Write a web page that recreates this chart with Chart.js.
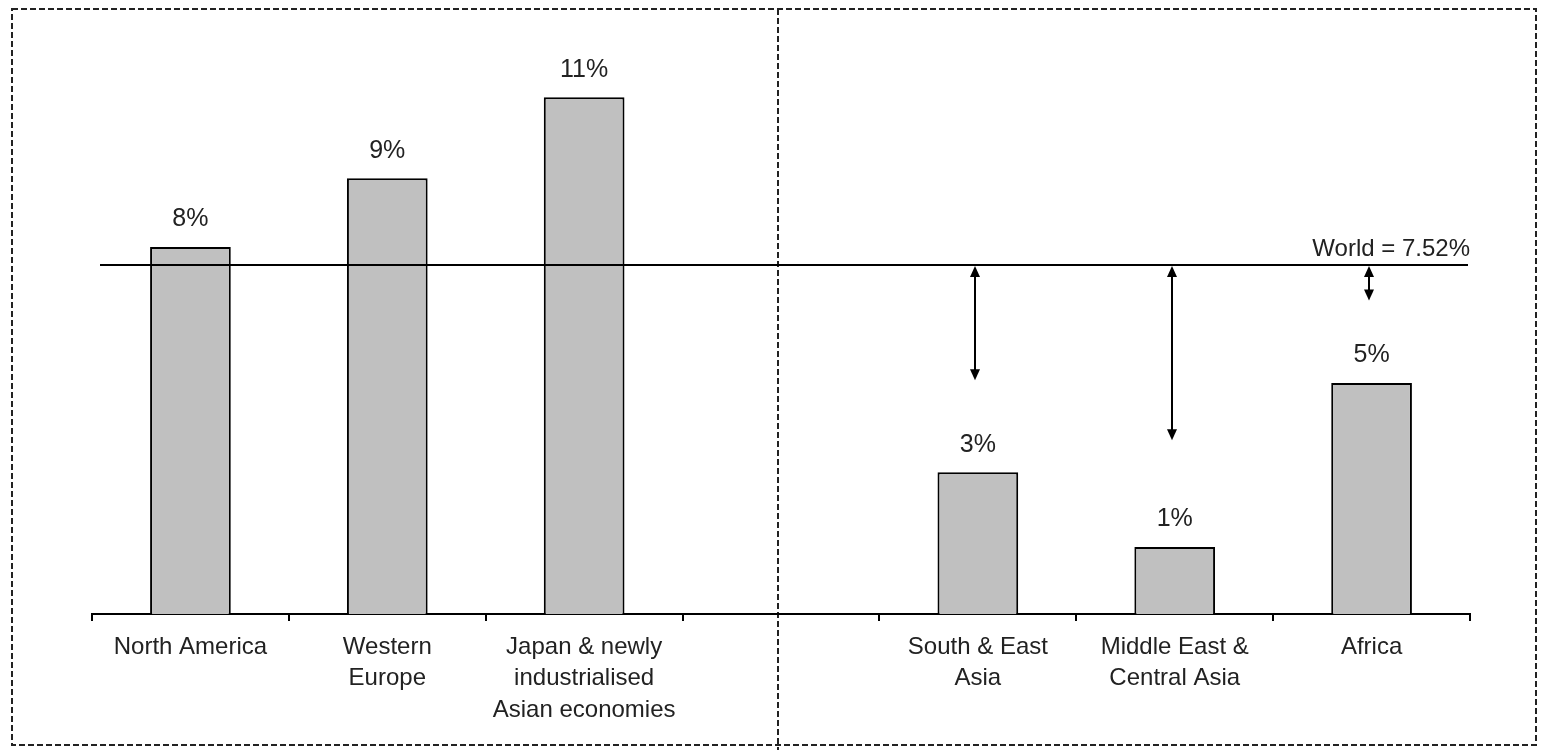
<!DOCTYPE html>
<html>
<head>
<meta charset="utf-8">
<script src="https://cdn.jsdelivr.net/npm/chart.js@4.4.1/dist/chart.umd.min.js"></script>
<style>
  body { margin: 0; background: #fff; }
  #wrap { width: 1541px; height: 750px; position: relative; }
</style>
</head>
<body>
<div id="wrap"><canvas id="growthChart"></canvas></div>
<script>
// regions, one empty slot splits the two groups
const regions = [
  "North America",
  ["Western", "Europe"],
  ["Japan & newly", "industrialised", "Asian economies"],
  "",
  ["South & East", "Asia"],
  ["Middle East &", "Central Asia"],
  "Africa",
];
const growth = [7.9, 9.38, 11.12, null, 3.05, 1.44, 4.97];
const worldGrowth = 7.52;
// where the gap arrows stop (value on the same scale)
const arrowEnds = [null, null, null, null, 5.03, 3.74, 6.75];

const FONT = "'Liberation Sans', Arial, sans-serif";

function arrowHead(ctx, x, y, dir) {
  ctx.beginPath();
  ctx.moveTo(x, y);
  ctx.lineTo(x - 5, y - dir * 11);
  ctx.lineTo(x + 5, y - dir * 11);
  ctx.closePath();
  ctx.fill();
}

const extras = {
  id: "extras",
  beforeDraw(chart) {
    const ctx = chart.ctx;
    ctx.save();
    ctx.strokeStyle = "#222";
    ctx.lineWidth = 2;
    ctx.setLineDash([6, 3]);
    ctx.strokeRect(12, 9, 1524, 736);
    // divider between the two groups
    const xs = chart.scales.x;
    const dx = Math.round(xs.getPixelForValue(3)) - 3;
    ctx.beginPath();
    ctx.moveTo(dx, 9);
    ctx.lineTo(dx, 750);
    ctx.stroke();
    ctx.restore();
  },
  afterDatasetsDraw(chart) {
    const ctx = chart.ctx;
    const ys = chart.scales.y;
    const area = chart.chartArea;
    const bars = chart.getDatasetMeta(0).data;
    ctx.save();

    // world average line
    const wy = Math.round(ys.getPixelForValue(worldGrowth));
    ctx.strokeStyle = "#000";
    ctx.lineWidth = 2;
    ctx.beginPath();
    ctx.moveTo(area.left + 8, wy);
    ctx.lineTo(area.right - 2, wy);
    ctx.stroke();

    ctx.fillStyle = "#222";
    ctx.font = "24px " + FONT;
    ctx.textAlign = "right";
    ctx.textBaseline = "bottom";
    ctx.fillText("World = " + worldGrowth + "%", area.right, wy - 4);

    // value labels
    ctx.font = "25px " + FONT;
    ctx.textAlign = "center";
    growth.forEach((v, i) => {
      if (v === null) return;
      ctx.fillText(Math.round(v) + "%", bars[i].x, bars[i].y - 15);
    });

    // gap arrows
    ctx.fillStyle = "#000";
    arrowEnds.forEach((v, i) => {
      if (v === null) return;
      const x = Math.round(bars[i].x) - 3;
      const y2 = ys.getPixelForValue(v);
      ctx.beginPath();
      ctx.moveTo(x, wy + 4);
      ctx.lineTo(x, y2 - 4);
      ctx.stroke();
      arrowHead(ctx, x, wy + 1, -1);
      arrowHead(ctx, x, y2, 1);
    });
    ctx.restore();
  },
};

new Chart(document.getElementById("growthChart"), {
  type: "bar",
  data: {
    labels: regions,
    datasets: [
      {
        data: growth,
        backgroundColor: "#c0c0c0",
        borderColor: "#000",
        borderWidth: 2,
        categoryPercentage: 1,
        barPercentage: 0.41,
      },
    ],
  },
  options: {
    responsive: true,
    maintainAspectRatio: false,
    animation: false,
    layout: { padding: { top: 10, left: 92, right: 71, bottom: 0 } },
    plugins: {
      legend: { display: false },
      tooltip: { enabled: false },
    },
    scales: {
      x: {
        grid: { drawOnChartArea: false, drawTicks: true, tickLength: 7, color: "#000", lineWidth: 2 },
        border: { color: "#000", width: 2 },
        ticks: {
          color: "#222",
          font: { family: FONT, size: 24, lineHeight: 1.3 },
          padding: 11,
          maxRotation: 0,
          autoSkip: false,
        },
        afterFit(scale) {
          scale.height = 136;
        },
      },
      y: {
        display: false,
        min: 0,
        max: 13,
      },
    },
  },
  plugins: [extras],
});
</script>
</body>
</html>
